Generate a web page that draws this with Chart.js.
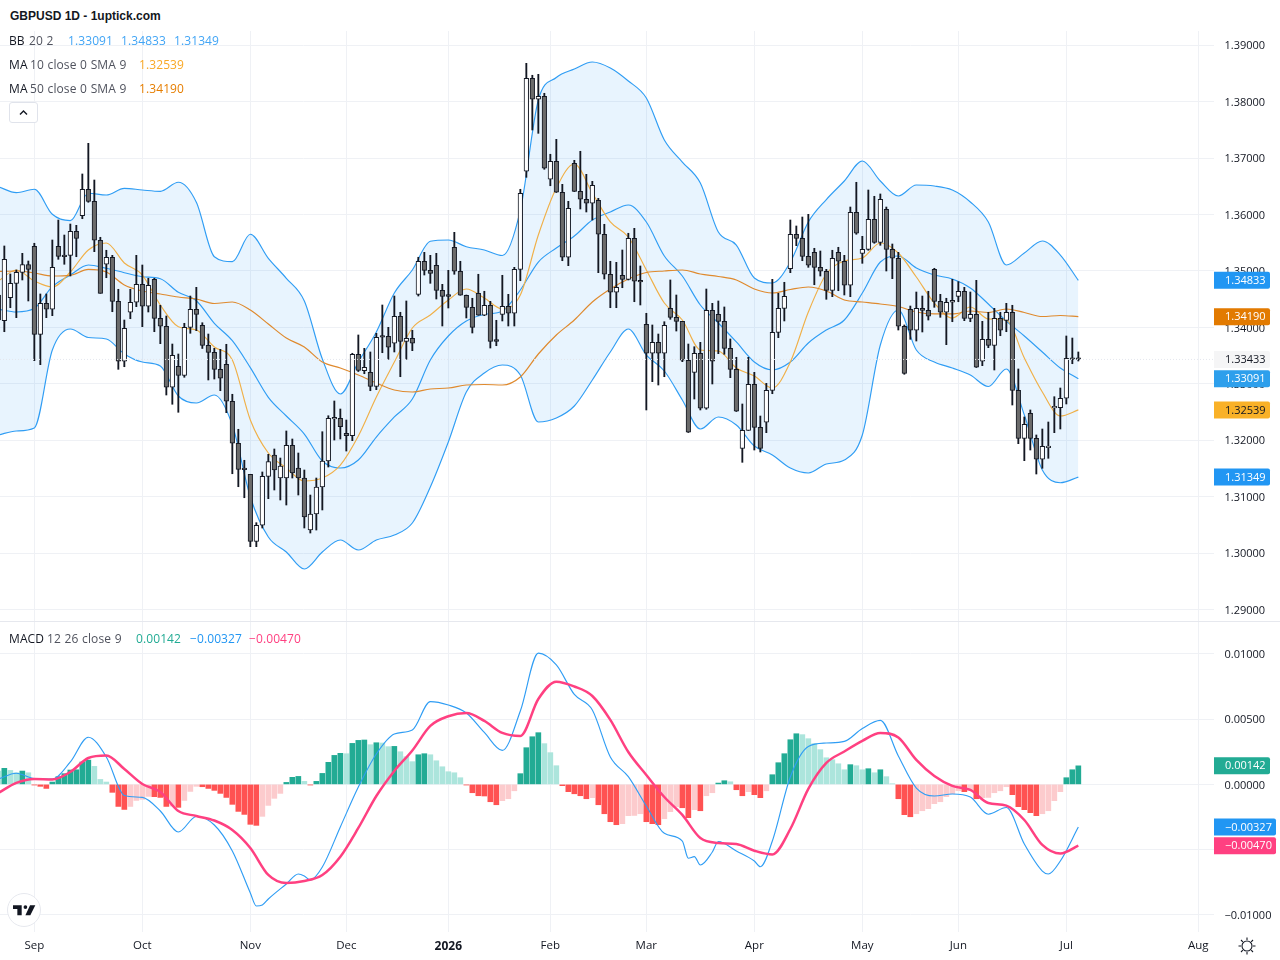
<!DOCTYPE html>
<html>
<head>
<meta charset="utf-8">
<title>GBPUSD 1D</title>
<script src="https://cdn.jsdelivr.net/npm/chart.js@4"></script>
<style>
  html, body { margin: 0; padding: 0; background: #fff; }
  #page { position: relative; width: 1280px; height: 960px; overflow: hidden; background: #fff; font-family: "Open Sans", sans-serif; }
  canvas { position: absolute; left: 0; display: block; }
  #priceCanvas { top: 31px; }
  #macdCanvas { top: 622px; }
  #divider { position: absolute; left: 0; top: 621px; width: 1280px; height: 1px; background: #e6e8ee; }
  .row { position: absolute; left: 0; height: 18px; line-height: 18px; font-size: 12px; letter-spacing: 0.1px; word-spacing: 0.4px; white-space: nowrap; color: #50535e; }
  .row span { position: absolute; top: 0; }
  .name { color: #131722; }
  #title { position: absolute; left: 10px; top: 9px; font: bold 12px "Liberation Sans", sans-serif; color: #131722; line-height: 15px; }
  #collapse { position: absolute; left: 9px; top: 102px; width: 27px; height: 19px; border: 1px solid #e0e3eb; border-radius: 3px; background: #fff; }
  #logo { position: absolute; left: 7px; top: 893px; }
  #sun { position: absolute; left: 1238px; top: 937px; }
</style>
</head>
<body>
<div id="page">
  <canvas id="priceCanvas" width="1280" height="590"></canvas>
  <canvas id="macdCanvas" width="1280" height="338"></canvas>
  <div id="divider"></div>
  <div id="title">GBPUSD 1D - 1uptick.com</div>
  <div class="row" style="top:32px"><span class="name" style="left:9px">BB</span><span style="left:29px">20 2</span><span style="left:68px;color:#42a5f5">1.33091</span><span style="left:121px;color:#42a5f5">1.34833</span><span style="left:174px;color:#42a5f5">1.31349</span></div>
  <div class="row" style="top:56px"><span class="name" style="left:9px">MA</span><span style="left:30px">10 close 0 SMA 9</span><span style="left:139px;color:#f9a825">1.32539</span></div>
  <div class="row" style="top:80px"><span class="name" style="left:9px">MA</span><span style="left:30px">50 close 0 SMA 9</span><span style="left:139px;color:#e67e00">1.34190</span></div>
  <div id="collapse"><svg width="27" height="19" viewBox="0 0 27 19"><path d="M10 11.5 L13.5 8 L17 11.5" fill="none" stroke="#131722" stroke-width="1.4"/></svg></div>
  <div class="row" style="top:630px"><span class="name" style="left:9px">MACD</span><span style="left:47px">12 26 close 9</span><span style="left:136px;color:#22ab94">0.00142</span><span style="left:190px;color:#2196f3">&#8722;0.00327</span><span style="left:249px;color:#ff4081">&#8722;0.00470</span></div>
  <svg id="logo" width="36" height="36" viewBox="0 0 36 36">
    <circle cx="17" cy="17" r="16.5" fill="#fff" stroke="#e6e8ee"/>
    <g transform="translate(6 8.5) scale(0.62)" fill="#131722"><path d="M14 6H0v6h7v10h7V6zM28 22h-8l7.5-16H36l-8 16z"/><circle cx="20" cy="9" r="3"/></g>
  </svg>
  <svg id="sun" width="18" height="18" viewBox="0 0 18 18" fill="none" stroke="#131722" stroke-width="1.1">
    <circle cx="9" cy="9" r="5"/>
    <path d="M9 0.5V3M9 15v2.500M0.500 9H3M15 9h2.500M3 3l1.800 1.800M13.200 13.200L15 15M3 15l1.800-1.800M13.200 4.800L15 3"/>
  </svg>
</div>
<script>
// Daily GBPUSD candles, oldest first
const opens = [
1.34574,1.34119,1.34526,1.34781,1.34976,1.35111,1.35436,1.33878,1.34427,1.34321,
1.35436,1.35277,1.35277,1.35702,1.35978,1.36446,1.36233,1.35543,1.35118,1.35242,
1.34462,1.33400,1.34268,1.34445,1.34763,1.34374,1.34852,1.34161,1.34020,1.32940,
1.33311,1.33152,1.34002,1.34321,1.34037,1.33683,1.33559,1.33258,1.33347,1.32692,
1.31948,1.31493,1.31399,1.30212,1.30496,1.31363,1.31741,1.31333,1.31333,1.31912,
1.31510,1.31333,1.30412,1.30696,1.31174,1.31634,1.32378,1.32390,1.32125,1.32082,
1.33524,1.33233,1.33205,1.32957,1.33843,1.33843,1.33719,1.34197,1.33754,1.33807,
1.34586,1.35171,1.35011,1.35100,1.34657,1.34569,1.35419,1.34994,1.34569,1.34356,
1.34604,1.34215,1.34392,1.33772,1.34232,1.34374,1.34250,1.35029,1.36765,1.38411,
1.38040,1.38093,1.36623,1.36942,1.36393,1.35242,1.36906,1.36410,1.36269,1.36198,
1.36251,1.35649,1.34941,1.34622,1.34923,1.34852,1.35578,1.34822,1.34055,1.33542,
1.33736,1.33542,1.34338,1.34179,1.34108,1.33418,1.33205,1.33542,1.32568,1.34303,
1.34232,1.34108,1.33630,1.33258,1.31859,1.32178,1.32993,1.32231,1.32320,1.32886,
1.33913,1.34338,1.35040,1.35649,1.35578,1.35259,1.35330,1.35064,1.34994,1.34657,
1.35330,1.35171,1.34746,1.36038,1.35312,1.35383,1.35915,1.35507,1.36092,1.35383,
1.35224,1.34020,1.34321,1.33949,1.34338,1.34303,1.35029,1.34462,1.34268,1.34445,
1.34551,1.34640,1.34161,1.34232,1.33400,1.33789,1.33683,1.34161,1.34126,1.34268,
1.32886,1.32036,1.32479,1.32036,1.31665,1.31870,1.32573,1.32578,1.32745,1.33448,
1.33445];
const highs = [
1.34751,1.35442,1.34946,1.35017,1.35312,1.35176,1.35490,1.34592,1.34592,1.35548,
1.35902,1.35636,1.35831,1.35808,1.36717,1.37260,1.36610,1.35596,1.35366,1.35277,
1.34675,1.34131,1.34675,1.35277,1.35105,1.34870,1.34870,1.34392,1.34202,1.33706,
1.33529,1.34073,1.34556,1.34710,1.34083,1.33883,1.33630,1.33612,1.33701,1.32816,
1.32196,1.31647,1.31399,1.30542,1.31440,1.31753,1.31847,1.31687,1.32166,1.32024,
1.31776,1.31475,1.31032,1.31333,1.32153,1.32436,1.32697,1.32555,1.32360,1.33542,
1.33866,1.33630,1.33565,1.33896,1.34397,1.34002,1.34556,1.34268,1.34468,1.33949,
1.35242,1.35330,1.35277,1.35312,1.34763,1.35011,1.35684,1.35171,1.34574,1.34516,
1.34941,1.34640,1.34462,1.34126,1.34923,1.34586,1.35064,1.36446,1.38677,1.38465,
1.38482,1.38146,1.37066,1.37331,1.36534,1.36233,1.36959,1.37119,1.36711,1.36587,
1.36286,1.35826,1.35171,1.35153,1.35371,1.35667,1.35755,1.35088,1.34250,1.34043,
1.33883,1.34101,1.34840,1.34574,1.34108,1.33706,1.33658,1.33736,1.34680,1.34427,
1.34468,1.34362,1.33795,1.33471,1.32644,1.33471,1.33205,1.32431,1.33010,1.34852,
1.34604,1.34799,1.35902,1.35796,1.35955,1.36003,1.35401,1.35353,1.35029,1.35366,
1.35419,1.35277,1.36132,1.36570,1.35613,1.36433,1.36322,1.36363,1.36132,1.35477,
1.35330,1.34043,1.34379,1.34627,1.34556,1.34640,1.35047,1.34586,1.34516,1.34852,
1.34810,1.34710,1.34627,1.34834,1.34108,1.34268,1.34338,1.34268,1.34427,1.34392,
1.33264,1.32414,1.32538,1.32095,1.32201,1.32325,1.32773,1.32927,1.33848,1.33812,
1.33565];
const lows = [
1.33954,1.33924,1.34349,1.34172,1.34840,1.34468,1.33411,1.33340,1.34172,1.34208,
1.35206,1.35118,1.34910,1.35252,1.35925,1.36216,1.35341,1.34604,1.34880,1.34278,
1.33258,1.33304,1.34154,1.34367,1.34013,1.34273,1.33924,1.33712,1.32803,1.32639,
1.32497,1.33117,1.33896,1.33942,1.33627,1.33069,1.33086,1.32879,1.32490,1.31409,
1.31179,1.30984,1.30117,1.30117,1.30448,1.30967,1.31121,1.30944,1.30855,1.31333,
1.31032,1.30448,1.30359,1.30412,1.30767,1.31528,1.32006,1.32024,1.31811,1.31994,
1.33219,1.33180,1.32879,1.32897,1.33552,1.33435,1.33565,1.33127,1.33435,1.33588,
1.34556,1.34928,1.34781,1.34503,1.34025,1.34344,1.34941,1.34569,1.34167,1.33901,
1.34215,1.34208,1.33635,1.33676,1.34114,1.34025,1.34025,1.34827,1.36658,1.37496,
1.37437,1.36800,1.36509,1.36389,1.35181,1.35093,1.36406,1.36097,1.36044,1.35902,
1.34969,1.34857,1.34349,1.34349,1.34703,1.34840,1.34455,1.34397,1.32538,1.33039,
1.32980,1.33127,1.34144,1.33936,1.33393,1.32139,1.32732,1.32538,1.32550,1.32998,
1.33535,1.33524,1.33110,1.32511,1.31611,1.32175,1.31829,1.31794,1.32136,1.32826,
1.33818,1.34114,1.34969,1.35447,1.35181,1.35064,1.34756,1.34910,1.34498,1.34544,
1.34650,1.34574,1.34544,1.35649,1.35135,1.35366,1.35490,1.35454,1.34999,1.34863,
1.33954,1.33170,1.33789,1.33759,1.33919,1.34131,1.34356,1.34179,1.33694,1.34101,
1.34455,1.34119,1.34101,1.33290,1.33322,1.33641,1.33246,1.33853,1.33924,1.32626,
1.31941,1.31640,1.31829,1.31404,1.31505,1.31682,1.32136,1.32201,1.32644,1.33357,
1.33405];
const closes = [
1.34131,1.35206,1.34781,1.34976,1.35111,1.35029,1.33878,1.34427,1.34321,1.35064,
1.35259,1.35252,1.35702,1.35578,1.36446,1.36233,1.35543,1.34604,1.35242,1.34462,
1.33400,1.33984,1.34445,1.34763,1.34374,1.34746,1.34161,1.34020,1.32940,1.33506,
1.33152,1.34002,1.34321,1.34232,1.33683,1.33559,1.33258,1.33099,1.32692,1.31948,
1.31487,1.31482,1.30212,1.30496,1.31363,1.31622,1.31475,1.31546,1.31912,1.31422,
1.31333,1.30643,1.30696,1.31174,1.31634,1.32390,1.32390,1.32242,1.32082,1.33524,
1.33240,1.33294,1.32957,1.33825,1.33825,1.33648,1.34197,1.33754,1.33807,1.33719,
1.35171,1.35011,1.34958,1.34657,1.34551,1.34551,1.34994,1.34569,1.34356,1.34002,
1.34215,1.34392,1.33754,1.33754,1.34374,1.34250,1.35029,1.36375,1.38411,1.38040,
1.38093,1.36818,1.36942,1.36393,1.35242,1.36109,1.36410,1.36269,1.36198,1.36517,
1.35649,1.34941,1.34622,1.34710,1.34852,1.35578,1.34817,1.34804,1.33542,1.33736,
1.33542,1.34037,1.34179,1.34108,1.33418,1.32143,1.33542,1.32568,1.34303,1.33400,
1.34108,1.33630,1.33258,1.32515,1.32178,1.32993,1.32231,1.31859,1.32886,1.33913,
1.34338,1.34551,1.35649,1.35578,1.35259,1.35100,1.35064,1.34994,1.34657,1.35224,
1.35171,1.34746,1.36038,1.35667,1.35383,1.35915,1.35507,1.36269,1.35383,1.35224,
1.34020,1.33187,1.33949,1.34338,1.34303,1.34197,1.34462,1.34268,1.34445,1.34480,
1.34640,1.34161,1.34232,1.33294,1.33789,1.33683,1.34161,1.33949,1.34268,1.32886,
1.32036,1.32284,1.32036,1.31665,1.31895,1.31891,1.32591,1.32745,1.33453,1.33433,
1.33433];

// Bar numbers at which the overlay and signal lines are listed
const lineBars = [0,3,6,9,12,15,18,21,24,27,30,33,36,39,42,45,48,51,54,57,60,63,66,69,72,75,78,81,84,87,90,
  93,96,99,102,105,108,111,114,117,120,123,126,129,132,135,138,141,144,147,150,153,156,159,162,165,168,171,174,177,180];

const bbUpper = [
1.36492,1.36386,1.36446,1.36003,1.35890,1.36375,1.36345,1.36463,1.36433,1.36410,1.36570,1.36216,1.35252,1.35164,1.35649,1.35224,
1.34870,1.34468,1.33441,1.32821,1.33387,1.33919,1.34609,1.35017,1.35525,1.35548,1.35429,1.35371,1.35273,1.36079,1.38027,
1.38426,1.38576,1.38700,1.38594,1.38364,1.38063,1.37319,1.36929,1.36557,1.35690,1.35459,1.34875,1.34787,1.35158,1.35867,
1.36265,1.36593,1.36947,1.36593,1.36327,1.36522,1.36504,1.36433,1.36221,1.35867,1.35105,1.35318,1.35530,1.35282,1.34833];
const bbBasis = [
1.34326,1.34273,1.34338,1.34721,1.34928,1.35105,1.35047,1.34969,1.34898,1.34863,1.34622,1.34473,1.34073,1.33765,1.33287,1.32762,
1.32431,1.32112,1.31634,1.31510,1.31652,1.32059,1.32414,1.32732,1.33423,1.33848,1.34114,1.34229,1.34291,1.34663,1.35158,
1.35406,1.35619,1.35902,1.36044,1.36168,1.35867,1.35265,1.34910,1.34397,1.34078,1.33742,1.33387,1.33246,1.33387,1.33724,
1.33954,1.34131,1.34609,1.35158,1.35265,1.35052,1.34928,1.34857,1.34698,1.34415,1.34114,1.33848,1.33565,1.33281,1.33091];
const bbLower = [
1.32095,1.32166,1.32219,1.33600,1.33972,1.33821,1.33795,1.33529,1.33387,1.33317,1.32785,1.32661,1.32803,1.32272,1.30997,1.30288,
1.30023,1.29722,1.30023,1.30235,1.30058,1.30235,1.30324,1.30536,1.31174,1.31971,1.32856,1.33193,1.33334,1.33157,1.32325,
1.32396,1.32608,1.33069,1.33565,1.33972,1.33511,1.33228,1.32715,1.32201,1.32414,1.32272,1.31900,1.31741,1.31510,1.31422,
1.31581,1.31652,1.32095,1.33689,1.34308,1.33600,1.33387,1.33281,1.33157,1.32954,1.33264,1.32449,1.31475,1.31250,1.31349];
const ma10 = [
1.34822,1.35017,1.34822,1.34716,1.34981,1.35371,1.35495,1.35141,1.34928,1.34397,1.34013,1.33954,1.33653,1.33423,1.32360,1.31776,
1.31510,1.31280,1.31333,1.31563,1.32077,1.32768,1.33387,1.33990,1.34220,1.34485,1.34680,1.34521,1.34326,1.34574,1.35636,
1.36469,1.36894,1.36380,1.35867,1.35601,1.35017,1.34432,1.34131,1.33600,1.33582,1.33281,1.33140,1.32927,1.33387,1.34273,
1.34946,1.35176,1.35229,1.35495,1.35318,1.34893,1.34432,1.34167,1.34362,1.34149,1.34131,1.33458,1.32856,1.32431,1.32539];
const ma50 = [
1.34990,1.34999,1.34964,1.34910,1.34923,1.35026,1.34981,1.34751,1.34645,1.34592,1.34539,1.34503,1.34423,1.34450,1.34308,1.34060,
1.33812,1.33653,1.33387,1.33281,1.33157,1.33016,1.32892,1.32856,1.32909,1.32927,1.32980,1.32989,1.32980,1.33122,1.33529,
1.33866,1.34131,1.34450,1.34680,1.34857,1.34972,1.34999,1.35017,1.34946,1.34902,1.34840,1.34680,1.34609,1.34671,1.34716,
1.34645,1.34485,1.34450,1.34415,1.34370,1.34273,1.34238,1.34238,1.34291,1.34264,1.34326,1.34264,1.34193,1.34211,1.34190];

// The MACD line has its turning points listed too, so it has its own bar numbers
const macdBars = [0,3,6,9,12,15,18,21,24,27,30,33,36,39,42,43,44,45,48,50,51,52,54,57,60,63,66,69,72,75,78,81,84,87,90,
  93,96,99,102,105,108,111,114,115,116,117,119,120,123,126,127,129,132,135,138,141,144,147,150,153,156,159,162,165,168,171,174,175,177,180];
const macdLine = [
0.00041,0.00085,0.00045,0.00041,0.00172,0.00361,0.00210,-0.00085,-0.00100,-0.00204,-0.00365,-0.00246,-0.00311,-0.00510,-0.00832,-0.00932,-0.00924,-0.00878,
-0.00763,-0.00687,-0.00702,-0.00733,-0.00633,-0.00326,-0.00020,0.00233,0.00386,0.00417,0.00634,0.00608,0.00547,0.00398,0.00260,0.00562,0.01005,
0.00915,0.00689,0.00570,0.00210,0.00059,-0.00166,-0.00375,-0.00434,-0.00566,-0.00554,-0.00618,-0.00518,-0.00438,-0.00510,-0.00587,-0.00631,-0.00434,0.00057,0.00290,
0.00317,0.00329,0.00428,0.00490,0.00218,-0.00028,-0.00089,-0.00074,-0.00097,-0.00229,-0.00177,-0.00457,-0.00664,-0.00687,-0.00587,-0.00327];
const signalLine = [
-0.00066,0.00011,0.00041,0.00038,0.00095,0.00202,0.00221,0.00118,0.00003,-0.00058,-0.00204,-0.00242,-0.00277,-0.00349,-0.00487,-0.00694,
-0.00756,-0.00740,-0.00694,-0.00554,-0.00334,-0.00089,0.00103,0.00260,0.00448,0.00522,0.00547,0.00486,0.00394,0.00371,0.00654,
0.00787,0.00750,0.00677,0.00494,0.00248,0.00072,-0.00097,-0.00234,-0.00411,-0.00449,-0.00457,-0.00508,-0.00537,-0.00342,-0.00035,
0.00164,0.00252,0.00333,0.00394,0.00359,0.00187,0.00064,-0.00012,-0.00043,-0.00143,-0.00163,-0.00273,-0.00464,-0.00530,-0.00470];
const macdHist = [
0.00102,0.00123,0.00107,0.00089,0.00102,0.00089,-0.00005,-0.00015,-0.00031,0.00018,
0.00059,0.00082,0.00110,0.00112,0.00171,0.00186,0.00138,0.00038,0.00018,-0.00061,
-0.00169,-0.00192,-0.00169,-0.00123,-0.00115,-0.00092,-0.00094,-0.00100,-0.00169,-0.00166,
-0.00176,-0.00123,-0.00054,-0.00015,-0.00018,-0.00031,-0.00046,-0.00069,-0.00100,-0.00153,
-0.00207,-0.00230,-0.00306,-0.00314,-0.00245,-0.00161,-0.00107,-0.00069,0.00015,0.00054,
0.00061,0.00023,-0.00005,0.00023,0.00084,0.00169,0.00222,0.00238,0.00235,0.00314,
0.00337,0.00340,0.00304,0.00319,0.00317,0.00289,0.00291,0.00250,0.00212,0.00174,
0.00227,0.00235,0.00227,0.00181,0.00135,0.00097,0.00089,0.00051,-0.00005,-0.00064,
-0.00087,-0.00089,-0.00133,-0.00156,-0.00125,-0.00110,-0.00049,0.00082,0.00281,0.00365,
0.00396,0.00312,0.00243,0.00143,-0.00010,-0.00056,-0.00072,-0.00087,-0.00110,-0.00102,
-0.00156,-0.00225,-0.00286,-0.00309,-0.00301,-0.00240,-0.00238,-0.00225,-0.00286,-0.00301,
-0.00309,-0.00263,-0.00209,-0.00171,-0.00179,-0.00255,-0.00194,-0.00202,-0.00087,-0.00064,
0.00010,0.00028,0.00020,-0.00041,-0.00087,-0.00056,-0.00079,-0.00102,-0.00049,0.00074,
0.00166,0.00235,0.00342,0.00388,0.00381,0.00350,0.00312,0.00266,0.00204,0.00189,
0.00158,0.00112,0.00151,0.00143,0.00112,0.00120,0.00089,0.00112,0.00059,0.00005,
-0.00110,-0.00232,-0.00248,-0.00225,-0.00202,-0.00186,-0.00148,-0.00133,-0.00094,-0.00072,
-0.00049,-0.00056,-0.00041,-0.00110,-0.00102,-0.00100,-0.00064,-0.00049,-0.00018,-0.00079,
-0.00171,-0.00194,-0.00217,-0.00240,-0.00225,-0.00202,-0.00125,-0.00056,0.00051,0.00112,
0.00142];

// Time axis: bar number of each month mark and its caption
const monthBars = [6,24,42,58,75,92,108,126,144,160,178,200];
const monthLabels = ["Sep","Oct","Nov","Dec","2026","Feb","Mar","Apr","May","Jun","Jul","Aug"];

const priceTicks = [1.29,1.30,1.31,1.32,1.33,1.34,1.35,1.36,1.37,1.38,1.39];
const macdTicks = [-0.01,-0.005,0,0.005,0.01];
const lastPrice = 1.33433;

const priceTags = [
  { value: 1.34833, bg: "#2196f3", fg: "#fff" },
  { value: 1.34190, bg: "#e27a00", fg: "#fff" },
  { value: lastPrice, bg: "#f5f5f6", fg: "#131722" },
  { value: 1.33091, bg: "#2d9fec", fg: "#fff" },
  { value: 1.32539, bg: "#f9b128", fg: "#131722" },
  { value: 1.31349, bg: "#2196f3", fg: "#fff" }
];
const macdTags = [
  { value: 0.00142, bg: "#22ab94", fg: "#fff" },
  { value: -0.00327, bg: "#2196f3", fg: "#fff" },
  { value: -0.00470, bg: "#ff4081", fg: "#fff" }
];

const GRID = "#eff1f5";
const INK = "#131722";
const AXIS_FONT = { family: "'Open Sans', sans-serif", size: 11 };
const AXIS_WIDTH = 66;
// Visible bar range: the first bar is cut by the left edge
const X_MIN = 0.2783, X_MAX = 202.611;

const formatAxis = v => (v < 0 ? "\u2212" : "") + Math.abs(v).toFixed(5);
const series = (values, bars = lineBars) => values.map((y, k) => ({ x: bars[k], y }));

function timeScale(showLabels) {
  return {
    type: "linear", min: X_MIN, max: X_MAX, offset: false,
    border: { display: false },
    grid: { color: GRID, lineWidth: 1, drawTicks: false, offset: false },
    ticks: {
      display: showLabels, autoSkip: false, maxRotation: 0, padding: 7,
      color: INK,
      font: ctx => (monthLabels[monthBars.indexOf(ctx.tick && ctx.tick.value)] === "2026"
        ? { family: AXIS_FONT.family, size: 12, weight: "bold" }
        : { family: AXIS_FONT.family, size: 11.5 }),
      callback: v => monthLabels[monthBars.indexOf(v)] ?? ""
    },
    afterBuildTicks: s => { s.ticks = monthBars.map(value => ({ value })); },
    afterFit: s => { s.height = showLabels ? 28 : 0; s.paddingLeft = 0; s.paddingRight = 0; }
  };
}

function valueScale(min, max, tickValues) {
  return {
    type: "linear", position: "right", min, max,
    border: { display: false },
    grid: { color: GRID, lineWidth: 1, drawTicks: false },
    ticks: { display: false },
    afterBuildTicks: s => { s.ticks = tickValues.map(value => ({ value })); },
    afterFit: s => { s.width = AXIS_WIDTH; s.paddingTop = 0; s.paddingBottom = 0; }
  };
}

// Right-axis captions with the value tags laid over them
function axisPlugin(tickValues, tags) {
  return {
    id: "axisCaptions",
    afterDraw(chart) {
      const { ctx, scales: { y } } = chart;
      ctx.save();
      ctx.font = "11px 'Open Sans', sans-serif";
      ctx.textBaseline = "middle";
      ctx.textAlign = "left";
      ctx.fillStyle = INK;
      for (const v of tickValues) {
        ctx.fillText(formatAxis(v), y.left + 10.5, y.getPixelForValue(v) + 1);
      }
      for (const tag of tags) {
        const py = y.getPixelForValue(tag.value);
        const width = tag.value < 0 ? 62 : 56;
        ctx.fillStyle = tag.bg;
        ctx.beginPath();
        ctx.roundRect(y.left, py - 8.5, width, 17, [0, 2, 2, 0]);
        ctx.fill();
        ctx.fillStyle = tag.fg;
        ctx.fillText(formatAxis(tag.value), y.left + 11, py + 0.5);
      }
      ctx.restore();
    }
  };
}

const candleBars = opens.map((_, i) => i);
const bands = { type: "line", pointRadius: 0, borderWidth: 1.15, cubicInterpolationMode: "monotone" };
const BAND_BLUE = "#2f9df4";

new Chart(document.getElementById("priceCanvas"), {
  data: {
    datasets: [
      { ...bands, label: "BB upper", data: series(bbUpper), borderColor: BAND_BLUE, fill: { target: 2 }, backgroundColor: "rgba(33,150,243,0.1)", order: 8 },
      { ...bands, label: "BB basis", data: series(bbBasis), borderColor: BAND_BLUE, order: 7 },
      { ...bands, label: "BB lower", data: series(bbLower), borderColor: BAND_BLUE, order: 6 },
      { ...bands, label: "MA 10", data: series(ma10), borderColor: "#f0b048", order: 5 },
      { ...bands, label: "MA 50", data: series(ma50), borderColor: "#df8a2e", borderWidth: 1.2, order: 4 },
      { type: "bar", label: "Wick", order: 3, grouped: false, barThickness: 1.2, backgroundColor: INK, borderWidth: 0,
        data: candleBars.map(i => ({ x: i, y: [lows[i], highs[i]] })) },
      { type: "bar", label: "Body", order: 2, grouped: false, barThickness: 4.6, minBarLength: 1.6, borderWidth: 1, borderSkipped: false, borderColor: INK,
        backgroundColor: candleBars.map(i => closes[i] >= opens[i] ? "#ffffff" : "#6b6b6b"),
        data: candleBars.map(i => ({ x: i, y: [opens[i], closes[i]] })) },
      { type: "line", label: "Last price", order: 1, pointRadius: 0, borderWidth: 1, borderDash: [1, 2], borderColor: "#e4e7ee",
        data: [{ x: X_MIN, y: lastPrice }, { x: X_MAX, y: lastPrice }] }
    ]
  },
  options: {
    responsive: false, animation: false, devicePixelRatio: 1,
    layout: { padding: 0 },
    plugins: { legend: { display: false }, tooltip: { enabled: false } },
    scales: { x: timeScale(false), y: valueScale(1.28801, 1.39249, priceTicks) }
  },
  plugins: [axisPlugin(priceTicks, priceTags)]
});

// Histogram shade follows whether the bar grew or shrank against the previous one
const histColor = macdHist.map((v, i) => {
  const prev = i > 0 ? macdHist[i - 1] : Infinity;
  if (v >= 0) return v > prev ? "#22ab94" : "#ace5dc";
  return v < prev ? "#ff5252" : "#fccbcd";
});

new Chart(document.getElementById("macdCanvas"), {
  data: {
    datasets: [
      { type: "line", label: "Signal", order: 1, pointRadius: 0, borderWidth: 2.5, borderColor: "#ff4081", cubicInterpolationMode: "monotone", data: series(signalLine) },
      { type: "line", label: "MACD", order: 2, pointRadius: 0, borderWidth: 1.15, borderColor: BAND_BLUE, cubicInterpolationMode: "monotone", data: series(macdLine, macdBars) },
      { type: "bar", label: "Histogram", order: 3, grouped: false, barThickness: 5, borderWidth: 0, backgroundColor: histColor,
        data: macdHist.map((y, i) => ({ x: i, y })) }
    ]
  },
  options: {
    responsive: false, animation: false, devicePixelRatio: 1,
    layout: { padding: 0 },
    plugins: { legend: { display: false }, tooltip: { enabled: false } },
    scales: { x: timeScale(true), y: valueScale(-0.01131, 0.01244, macdTicks) }
  },
  plugins: [axisPlugin(macdTicks, macdTags)]
});
</script>
</body>
</html>
